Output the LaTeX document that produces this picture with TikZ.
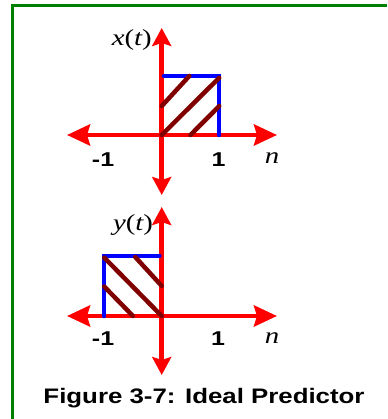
\documentclass[tikz,border=0pt]{standalone}
\usepackage{fontspec}
\setmainfont{Liberation Serif}
\setsansfont{Liberation Sans}
\usetikzlibrary{arrows.meta}
\definecolor{framegreen}{rgb}{0.0, 0.5, 0.0}
\definecolor{hatchred}{rgb}{0.5, 0.0, 0.0}
\newcommand{\wide}[1]{\scalebox{1.25}[1]{#1}}

\begin{document}
\begin{tikzpicture}[
		x=1pt, y=-1pt,
		haxis/.style={draw=red, line width=4.5pt, {Stealth[length=23pt, width=21pt, inset=3pt]}-{Stealth[length=23pt, width=21pt, inset=3pt]}},
		vaxis/.style={draw=red, line width=4.5pt, {Stealth[length=18pt, width=19pt, inset=3pt]}-{Stealth[length=18pt, width=19pt, inset=3pt]}},
		pulse/.style={draw=blue, line width=4.5pt, line cap=round},
		hatch/.style={draw=hatchred, line width=4.5pt, line cap=round},
		ticklabel/.style={font=\sffamily\bfseries\fontsize{20}{20}\selectfont, inner sep=0pt},
		varlabel/.style={font=\fontsize{23}{23}\selectfont, inner sep=0pt}
	]
	\useasboundingbox (0,0) rectangle (387,419);
	% frame
	\draw[framegreen, line width=3.5pt] (12.5,419) -- (12.5,5.5) -- (387,5.5);

	% x(t)
	\begin{scope}[shift={(161.7,135)}, x=57.5pt, y=59pt]
		\coordinate (xo) at (0,0);
		\coordinate (xl) at (-1.647,0);
		\coordinate (xr) at (2.005,0);
		\coordinate (xu) at (0,1.814);
		\coordinate (xd) at (0,-1.017);
		\draw[vaxis] (xd) -- (xu);
		\draw[haxis] (xl) -- (xr);
		\draw[pulse] (0.04,1) -- (1,1) -- (1,0);
		\draw[hatch] (0,0.49) -- (0.48,1);
		\draw[hatch] (xo) -- (1,0.97);
		\draw[hatch] (0.5,0) -- (1,0.49);
		\node[ticklabel] (xm1) at (-1.02,-0.41) {\wide{-1}};
		\node[ticklabel] (xp1) at (0.99,-0.41) {\wide{1}};
		\node[varlabel] (xn) at (1.92,-0.39) {\wide{\itshape n}};
		\node[varlabel] (xt) at (-0.52,1.61) {\wide{\itshape x\upshape(\itshape t\upshape)}};
	\end{scope}

	% y(t)
	\begin{scope}[shift={(161.7,316)}, x=57.5pt, y=59pt]
		\coordinate (yo) at (0,0);
		\coordinate (yl) at (-1.647,0);
		\coordinate (yr) at (2.005,0);
		\coordinate (yu) at (0,1.847);
		\coordinate (yd) at (0,-1.0);
		\draw[vaxis] (yd) -- (yu);
		\draw[haxis] (yl) -- (yr);
		\draw[pulse] (-0.04,1.02) -- (-1,1.02) -- (-1,0);
		\draw[hatch] (-1,0.5) -- (-0.5,0);
		\draw[hatch] (-1,0.99) -- (yo);
		\draw[hatch] (-0.46,1) -- (0,0.51);
		\node[ticklabel] (ym1) at (-1.02,-0.39) {\wide{-1}};
		\node[ticklabel] (yp1) at (0.98,-0.39) {\wide{1}};
		\node[varlabel] (yn) at (1.92,-0.37) {\wide{\itshape n}};
		\node[varlabel] (yt) at (-0.5,1.54) {\wide{\itshape y\upshape(\itshape t\upshape)}};
	\end{scope}

	\node[font=\sffamily\bfseries\fontsize{21}{21}\selectfont, inner sep=0pt] (caption) at (204,398) {\scalebox{1.23}[1]{Figure 3-7: Ideal Predictor}};
\end{tikzpicture}
\end{document}
